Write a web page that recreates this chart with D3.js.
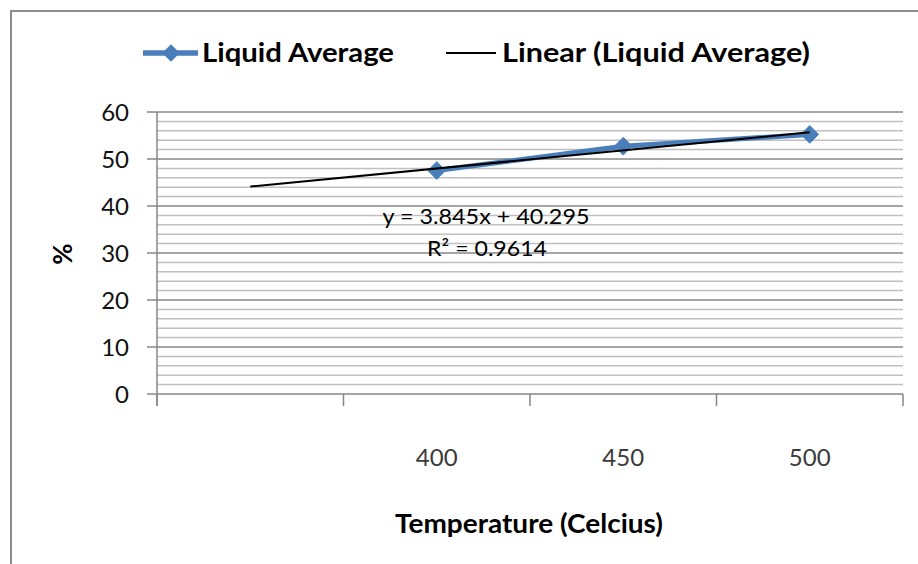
<!DOCTYPE html>
<html>
<head>
<meta charset="utf-8">
<script src="https://cdn.jsdelivr.net/npm/d3@7"></script>
<style>
  html, body { margin: 0; padding: 0; background: #fff; }
  svg { display: block; }
  text { font-family: Lato, "Open Sans", sans-serif; }
</style>
</head>
<body>
<svg id="chart" width="918" height="564"></svg>
<script>
// ---- data ----
const categories = ["", "400", "450", "500"];
const liquidAverage = [null, 47.54, 52.72, 55.23];
const trendSlope = [3.845];
const trendIntercept = [40.295];
const trendLabel = ["y = 3.845x + 40.295", "R\u00B2 = 0.9614"];
const yTicks = [0, 10, 20, 30, 40, 50, 60];
const yMinorTicks = [2,4,6,8,12,14,16,18,22,24,26,28,32,34,36,38,42,44,46,48,52,54,56,58];
const seriesNames = ["Liquid Average", "Linear (Liquid Average)"];
const xTitle = ["Temperature (Celcius)"];
const yTitle = ["%"];

// ---- layout ----
const svg = d3.select("#chart");
const plotLeft = 157, plotRight = 903, plotTop = 112, plotBottom = 394;
const blue = "#4a7ebb";
const gridMajor = "#878787", gridMinor = "#c0c0c0";

const x = d3.scaleBand().domain(d3.range(categories.length)).range([plotLeft, plotRight]).paddingInner(0).paddingOuter(0);
const cx = i => x(i) + x.bandwidth() / 2;
const y = d3.scaleLinear().domain([0, 60]).range([plotBottom, plotTop]);

// chart border (open to right/bottom)
svg.append("path")
  .attr("d", `M11,564 L11,11 L918,11`)
  .attr("fill", "none").attr("stroke", "#8c8c8c").attr("stroke-width", 2);

// minor gridlines
svg.append("g").selectAll("line").data(yMinorTicks).join("line")
  .attr("x1", plotLeft).attr("x2", plotRight)
  .attr("y1", d => y(d)).attr("y2", d => y(d))
  .attr("stroke", gridMinor).attr("stroke-width", 1.5);

// major gridlines
svg.append("g").selectAll("line").data(yTicks).join("line")
  .attr("x1", plotLeft - 10).attr("x2", plotRight)
  .attr("y1", d => y(d)).attr("y2", d => y(d))
  .attr("stroke", gridMajor).attr("stroke-width", 1.5);

// y axis line
svg.append("line").attr("x1", plotLeft).attr("x2", plotLeft).attr("y1", plotTop).attr("y2", plotBottom + 12)
  .attr("stroke", gridMajor).attr("stroke-width", 1.5);

// x ticks (between categories)
const xTickPos = d3.range(categories.length + 1).map(i => i < categories.length ? x(i) : plotRight);
svg.append("g").selectAll("line").data(xTickPos).join("line")
  .attr("x1", d => d).attr("x2", d => d).attr("y1", plotBottom).attr("y2", plotBottom + 12)
  .attr("stroke", gridMajor).attr("stroke-width", 1.5);

// y tick labels
svg.append("g").selectAll("text").data(yTicks).join("text")
  .attr("x", 129).attr("y", d => y(d) + 8.5)
  .attr("text-anchor", "end").attr("font-size", 24).attr("fill", "#111")
  .text(d => d);

// x tick labels
svg.append("g").selectAll("text").data(categories).join("text")
  .attr("x", (d, i) => cx(i)).attr("y", 466)
  .attr("text-anchor", "middle").attr("font-size", 24).attr("fill", "#3a3a3a")
  .text(d => d);

// axis titles
svg.append("text").attr("x", 529).attr("y", 533).attr("text-anchor", "middle")
  .attr("font-size", 27).attr("font-weight", "bold").attr("fill", "#000")
  .attr("textLength", 268).attr("lengthAdjust", "spacingAndGlyphs")
  .text(xTitle[0]);
svg.append("text").attr("transform", "translate(72,254) rotate(-90)").attr("text-anchor", "middle")
  .attr("font-size", 26).attr("font-weight", "bold").attr("fill", "#000")
  .text(yTitle[0]);

// data series
const pts = liquidAverage.map((v, i) => ({i, v})).filter(d => d.v !== null);
svg.append("path").datum(pts)
  .attr("d", d3.line().x(d => cx(d.i)).y(d => y(d.v)))
  .attr("fill", "none").attr("stroke", blue).attr("stroke-width", 5).attr("stroke-linejoin", "round");

const diamond = d3.symbol().type(d3.symbolDiamond2).size(200);
svg.append("g").selectAll("path").data(pts).join("path")
  .attr("transform", d => `translate(${cx(d.i)},${y(d.v)})`)
  .attr("d", diamond).attr("fill", blue).attr("stroke", blue).attr("stroke-width", 1);

// trendline over all category positions (x = 1..n)
const trendPts = [0, categories.length - 1].map(i => ({i, v: trendSlope[0] * (i + 1) + trendIntercept[0]}));
svg.append("path").datum(trendPts)
  .attr("d", d3.line().x(d => cx(d.i)).y(d => y(d.v)))
  .attr("fill", "none").attr("stroke", "#000").attr("stroke-width", 2);

// trend label
svg.append("text").attr("x", 486).attr("y", 224).attr("text-anchor", "middle")
  .attr("font-size", 22).attr("fill", "#000")
  .attr("textLength", 207).attr("lengthAdjust", "spacingAndGlyphs")
  .text(trendLabel[0]);
svg.append("text").attr("x", 487).attr("y", 256).attr("text-anchor", "middle")
  .attr("font-size", 22).attr("fill", "#000")
  .attr("textLength", 120).attr("lengthAdjust", "spacingAndGlyphs")
  .text(trendLabel[1]);

// legend
const lg = svg.append("g");
lg.append("line").attr("x1", 143).attr("x2", 198).attr("y1", 53).attr("y2", 53)
  .attr("stroke", blue).attr("stroke-width", 5.5);
lg.append("path").attr("transform", "translate(171,53)").attr("d", diamond).attr("fill", blue);
lg.append("text").attr("x", 202).attr("y", 62).attr("font-size", 26.5).attr("font-weight", "bold")
  .attr("textLength", 192).attr("lengthAdjust", "spacingAndGlyphs").text(seriesNames[0]);
lg.append("line").attr("x1", 446).attr("x2", 496).attr("y1", 53).attr("y2", 53)
  .attr("stroke", "#000").attr("stroke-width", 2);
lg.append("text").attr("x", 502).attr("y", 62).attr("font-size", 26.5).attr("font-weight", "bold")
  .attr("textLength", 308).attr("lengthAdjust", "spacingAndGlyphs").text(seriesNames[1]);
</script>
</body>
</html>
